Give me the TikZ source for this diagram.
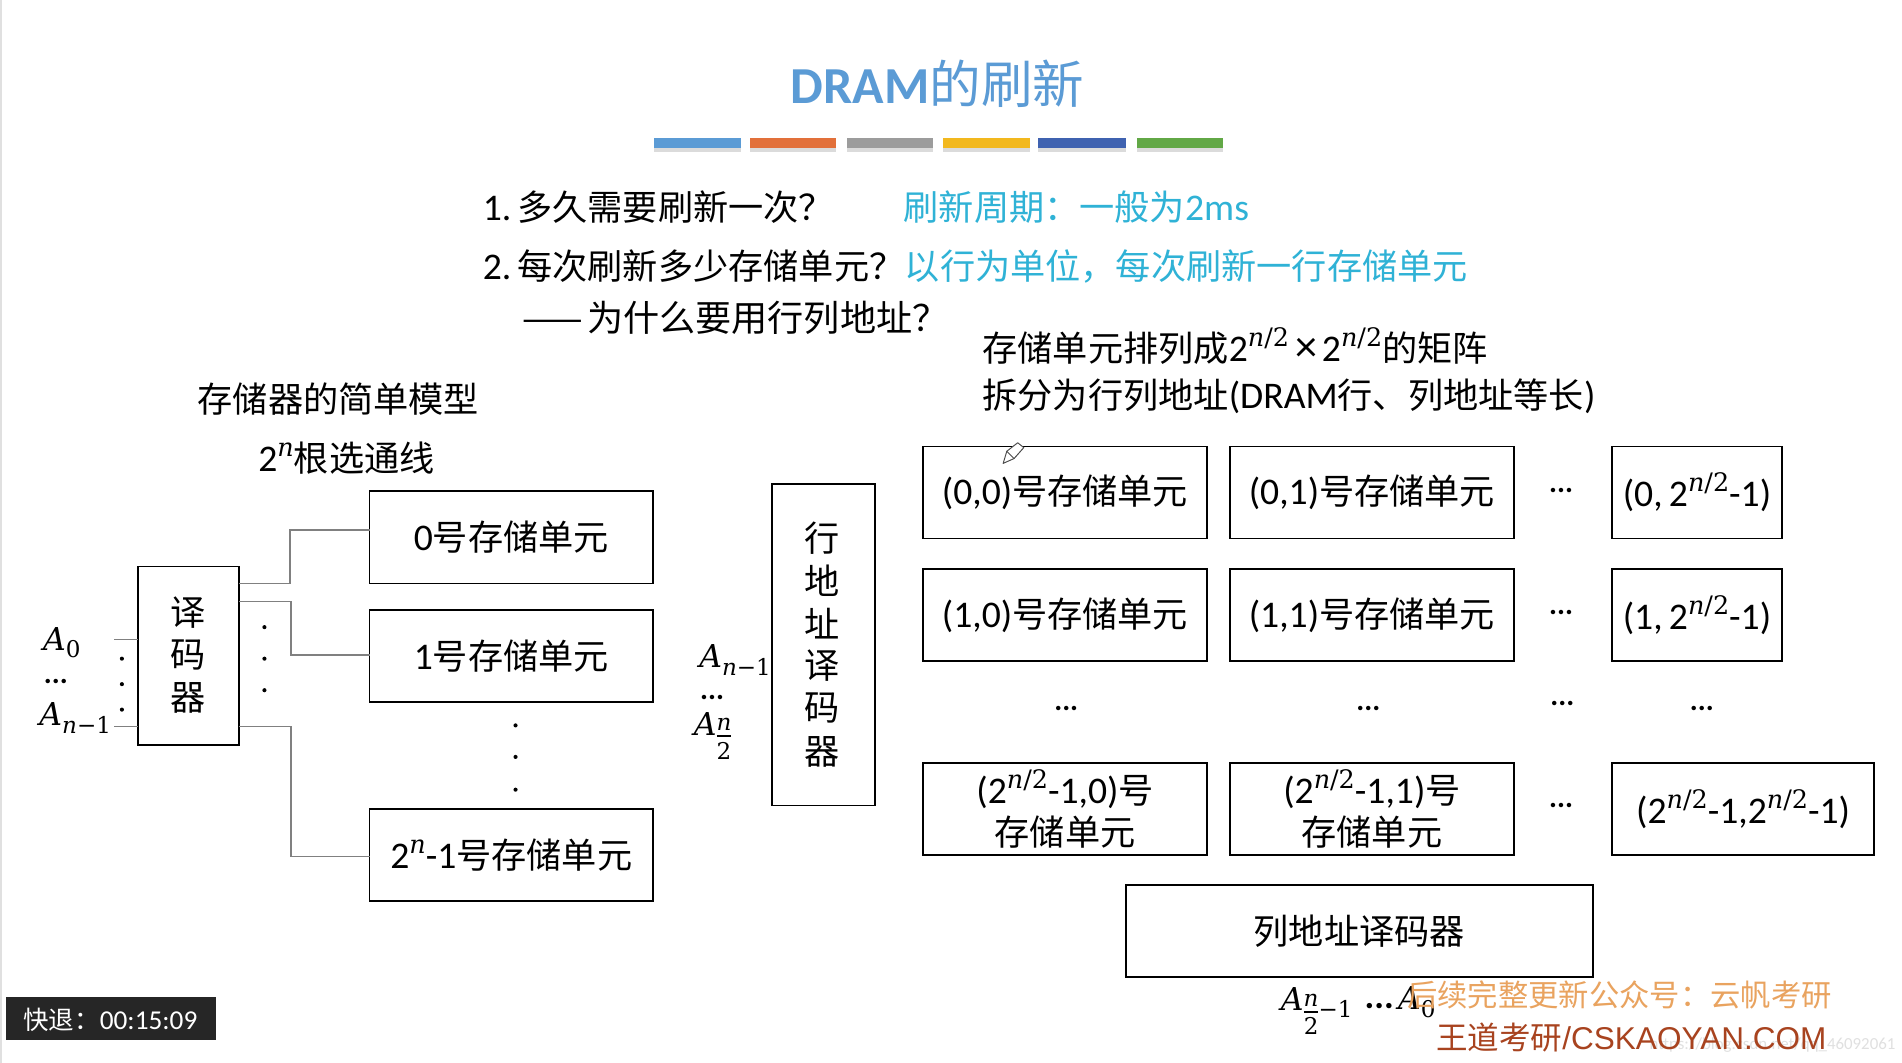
\documentclass[tikz,border=0pt]{standalone}
\usepackage{fontspec}
\setmainfont[Scale=1.07]{Carlito}
\newfontfamily\cjk{Noto Sans CJK SC}
\newfontfamily\mifont{DejaVu Serif}
\newcommand{\zh}[1]{{\cjk #1}}
\newcommand{\mi}[1]{{\mifont\itshape #1}}
\newcommand{\up}[1]{\raisebox{.40em}{\fontsize{21}{21}\selectfont\mifont #1}}
\newcommand{\sq}{2\up{\mi{n}/2}}
\newcommand{\twon}{2\up{\mi{n}}}
\newcommand{\symA}[1]{\mi{A}\raisebox{-.22em}{\fontsize{19}{19}\selectfont\mifont #1}}
\newcommand{\halfn}{\raisebox{-.72em}{\fontsize{19}{19}\selectfont\mifont\shortstack[c]{\mi{n}\\[1pt]\rule{12pt}{1.6pt}\\[1pt]2}}}
\definecolor{hint}{HTML}{2FB2D6}
\definecolor{titleblue}{HTML}{5B9BD5}
\definecolor{wiregray}{HTML}{808080}
\definecolor{wmorange}{HTML}{E9A35F}
\definecolor{wmbrown}{HTML}{A8431F}
\tikzset{
  x=1pt,y=-1pt,
  every node/.style={inner sep=0pt,outer sep=0pt,font=\fontsize{29}{35}\selectfont},
  cell/.style={draw=black,line width=1.4pt,rectangle,align=center,minimum height=76pt},
  wide/.style={cell,minimum width=234pt},
  narrow/.style={cell,minimum width=140pt},
  wire/.style={draw=wiregray,line width=1.2pt},
  line/.style={anchor=base west},
  answer/.style={anchor=base west,text=hint},
  stack/.style={align=center,font=\fontsize{29}{35}\selectfont},
  ell/.style={font=\fontsize{23}{24}\selectfont\bfseries},
  sym/.style={font=\fontsize{26}{30}\selectfont}
}
\begin{document}
\begin{tikzpicture}
\useasboundingbox (0,0) rectangle (1568,876);
\fill[white] (0,0) rectangle (1568,876);
\fill[black!12] (0,0) rectangle (1.5,876);
% title
\node[line,text=titleblue] (title) at (652,85) {\fontsize{40}{50}\selectfont\textbf{DRAM}\fontsize{42.5}{50}\selectfont\zh{的刷新}};
% colour bars
\foreach \xa/\xb/\c in {539/611/5B9BD5,618/689/E2703A,698/769/9C9C9C,777/849/F2B81E,856/928/3F62B0,937/1008/62A846}{
  \definecolor{barc}{HTML}{\c}
  \fill[black,opacity=.14] (\xa,118) rectangle (\xb,125);
  \fill[barc] (\xa,114) rectangle (\xb,122);
}
% text lines
\node[line] (q1) at (398,182) {1.\hspace{5pt}\zh{多久需要刷新一次？}};
\node[answer] (a1) at (745,182) {\zh{刷新周期：一般为}2ms};
\node[line] (q2) at (398,230) {2.\hspace{5pt}\zh{每次刷新多少存储单元？}};
\node[answer] (a2) at (746,230) {\zh{以行为单位，每次刷新一行存储单元}};
\node[line,font=\fontsize{29.8}{35}\selectfont] (q3) at (431,273) {\zh{——\hspace{3pt}为什么要用行列地址？}};
\node[line] (m1) at (810,298) {\zh{存储单元排列成}\sq\hspace{5pt}{\fontsize{34}{34}\selectfont ×}\hspace{4pt}\sq\zh{的矩阵}};
\node[line] (m2) at (810,337) {\zh{拆分为行列地址}(DRAM\zh{行、列地址等长})};
\node[line] (s1) at (163,340) {\zh{存储器的简单模型}};
\node[line] (s2) at (213,389) {\twon\zh{根选通线}};
% simple model
\node[wide] (b0) at (421.5,443) {0\zh{号存储单元}};
\node[wide] (b1) at (421.5,541) {1\zh{号存储单元}};
\node[wide] (b2) at (421.5,705) {\twon-1\zh{号存储单元}};
\node[draw=black,line width=1.4pt,minimum width=83pt,minimum height=147pt] (dec) at (155.5,540.5) {};
\node[stack] (d1) at (155,505) {\zh{译}};
\node[stack] (d2) at (155,540) {\zh{码}};
\node[stack] (d3) at (155,575) {\zh{器}};
\coordinate (o0) at (197,481); \coordinate (e0) at (305,437);
\coordinate (o1) at (197,496); \coordinate (e1) at (305,540);
\coordinate (o2) at (197,599); \coordinate (e2) at (305,706);
\coordinate (i0) at (94,527);  \coordinate (t0) at (114,527);
\coordinate (i1) at (94,599);  \coordinate (t1) at (114,599);
\draw[wire] (o0) -- ++(42,0) |- (e0);
\draw[wire] (o1) -- ++(43,0) |- (e1);
\draw[wire] (o2) -- ++(43,0) |- (e2);
\draw[wire] (i0) -- (t0);
\draw[wire] (i1) -- (t1);
\foreach \y in {517,543,569}{\fill (218,\y) circle (1.7);}
\foreach \y in {543,564,585}{\fill (100.5,\y) circle (1.7);}
\foreach \y in {598,624,651}{\fill (425,\y) circle (1.7);}
\node[sym] (la0) at (51,530) {\symA{0}};
\node[ell] (la1) at (46,562) {...};
\node[sym] (la2) at (62,592) {\symA{\mi{n}−1}};
% row decoder
\node[draw=black,line width=1.4pt,minimum width=85pt,minimum height=265pt] (row) at (679,531.5) {};
\foreach \t/\y/\n in {行/444/r1,地/479/r2,址/514/r3,译/549/r4,码/584/r5,器/620/r6}{
  \node[stack] (\n) at (678,\y) {\zh{\t}};
}
\node[sym] (lb0) at (606,544) {\symA{\mi{n}−1}};
\node[ell] (lb1) at (587,575) {...};
\node[anchor=base west,sym] (lb2) at (572,606) {\mi{A}\halfn};
% matrix
\node[wide] (c00) at (878,406) {(0,0)\zh{号存储单元}};
\node[wide] (c01) at (1131,406) {(0,1)\zh{号存储单元}};
\node[narrow] (c02) at (1399,406) {(0,\,\sq-1)};
\node[wide] (c10) at (878,507) {(1,0)\zh{号存储单元}};
\node[wide] (c11) at (1131,507) {(1,1)\zh{号存储单元}};
\node[narrow] (c12) at (1399,507) {(1,\,\sq-1)};
\node[wide] (c20) at (878,667) {(\sq-1,0)\zh{号}\\\zh{存储单元}};
\node[wide] (c21) at (1131,667) {(\sq-1,1)\zh{号}\\\zh{存储单元}};
\node[cell,minimum width=216pt] (c22) at (1437,667) {(\sq-1,\sq-1)};
\node[ell] (e1a) at (1287,404) {...};
\node[ell] (e1b) at (1287,505) {...};
\node[ell] (e1c) at (1287,664) {...};
\node[ell] (e2a) at (879,584) {...};
\node[ell] (e2b) at (1128,584) {...};
\node[ell] (e2c) at (1288,580) {...};
\node[ell] (e2d) at (1403,584) {...};
% column decoder
\node[cell,minimum width=385pt] (col) at (1120.5,767.5) {\zh{列地址译码器}};
\node[anchor=base west,sym] (lc0) at (1056,833) {\mi{A}\halfn\raisebox{-.22em}{\fontsize{19}{19}\selectfont\mifont −1}};
\node[ell,font=\fontsize{28}{28}\selectfont\bfseries] (lc1) at (1137,829) {...};
\node[sym] (lc2) at (1168,826) {\symA{0}};
% pencil
\filldraw[fill=white,draw=black!70,line width=.8pt,line join=round]
  (827,382) -- (830,372) -- (839,365) -- (844,369) -- (836,378) -- cycle;
\draw[black!70,line width=.8pt] (830,372) -- (836,378);
% watermarks
\node[anchor=base west,text=wmorange,font=\fontsize{25}{30}\selectfont] (w1) at (1160,830) {\zh{后续完整更新公众号：云帆考研}};
\node[anchor=base west,text=black!12,font=\fontsize{13}{16}\selectfont] (w3) at (1360,865) {https://blog.csdn.net/qq\_46092061};
\node[anchor=base west,text=wmbrown,font=\fontsize{26}{32}\selectfont] (w2) at (1184,865) {\zh{王道考研}\fontspec{Liberation Sans}/CSKAOYAN.COM};
% replay badge
\node[fill=black!85,minimum width=173pt,minimum height=35pt] (badge) at (91.5,839.5) {};
\node[text=white,font=\fontsize{21}{24}\selectfont] (badget) at (91,841) {\zh{快退：}00:15:09};
\end{tikzpicture}
\end{document}
